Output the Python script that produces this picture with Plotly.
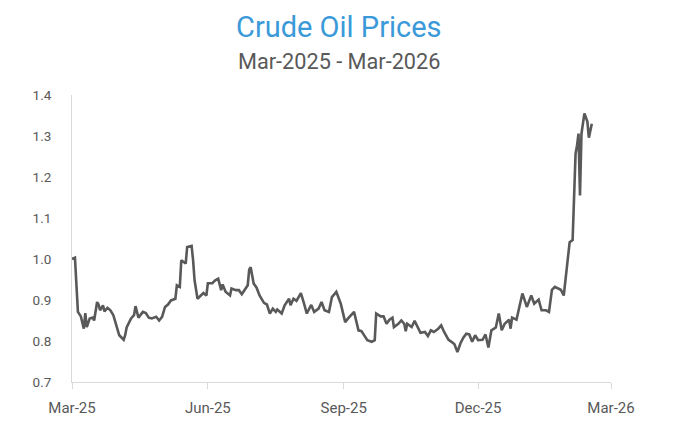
import plotly.graph_objects as go

dates = [
    "2025-03-01", "2025-03-03", "2025-03-05", "2025-03-07", "2025-03-09", "2025-03-10", "2025-03-11",
    "2025-03-13", "2025-03-15", "2025-03-16", "2025-03-18", "2025-03-19", "2025-03-20", "2025-03-22",
    "2025-03-23", "2025-03-25", "2025-03-27", "2025-03-29", "2025-04-01", "2025-04-02", "2025-04-05",
    "2025-04-06", "2025-04-07", "2025-04-10", "2025-04-12", "2025-04-13", "2025-04-15", "2025-04-18",
    "2025-04-20", "2025-04-22", "2025-04-24", "2025-04-27", "2025-04-29", "2025-05-01", "2025-05-03",
    "2025-05-05", "2025-05-07", "2025-05-10", "2025-05-11", "2025-05-13", "2025-05-14", "2025-05-17",
    "2025-05-18", "2025-05-21", "2025-05-22", "2025-05-23", "2025-05-25", "2025-05-27", "2025-05-29",
    "2025-05-31", "2025-06-01", "2025-06-04", "2025-06-06", "2025-06-08", "2025-06-10", "2025-06-11",
    "2025-06-13", "2025-06-16", "2025-06-17", "2025-06-20", "2025-06-22", "2025-06-24", "2025-06-26",
    "2025-06-28", "2025-06-29", "2025-06-30", "2025-07-02", "2025-07-04", "2025-07-06", "2025-07-09",
    "2025-07-11", "2025-07-13", "2025-07-15", "2025-07-17", "2025-07-18", "2025-07-21", "2025-07-23",
    "2025-07-26", "2025-07-27", "2025-07-29", "2025-07-31", "2025-08-03", "2025-08-05", "2025-08-07",
    "2025-08-10", "2025-08-12", "2025-08-15", "2025-08-17", "2025-08-19", "2025-08-22", "2025-08-24",
    "2025-08-27", "2025-08-30", "2025-09-02", "2025-09-04", "2025-09-08", "2025-09-11", "2025-09-13",
    "2025-09-17", "2025-09-20", "2025-09-22", "2025-09-23", "2025-09-26", "2025-09-28", "2025-09-30",
    "2025-10-02", "2025-10-04", "2025-10-05", "2025-10-08", "2025-10-10", "2025-10-12", "2025-10-13",
    "2025-10-14", "2025-10-17", "2025-10-19", "2025-10-22", "2025-10-23", "2025-10-26", "2025-10-28",
    "2025-10-30", "2025-11-01", "2025-11-04", "2025-11-06", "2025-11-08", "2025-11-11", "2025-11-13",
    "2025-11-15", "2025-11-17", "2025-11-19", "2025-11-21", "2025-11-23", "2025-11-25", "2025-11-27",
    "2025-11-29", "2025-12-01", "2025-12-04", "2025-12-06", "2025-12-08", "2025-12-10", "2025-12-13",
    "2025-12-15", "2025-12-17", "2025-12-19", "2025-12-22", "2025-12-23", "2025-12-24", "2025-12-27",
    "2025-12-31", "2026-01-03", "2026-01-06", "2026-01-08", "2026-01-11", "2026-01-13", "2026-01-16",
    "2026-01-18", "2026-01-20", "2026-01-22", "2026-01-26", "2026-01-28", "2026-01-30", "2026-02-01",
    "2026-02-03", "2026-02-04", "2026-02-05", "2026-02-06", "2026-02-07", "2026-02-08", "2026-02-09",
    "2026-02-11", "2026-02-13", "2026-02-14", "2026-02-16",
]

prices = [
    1.000, 1.003, 0.871, 0.860, 0.830, 0.868, 0.834,
    0.855, 0.857, 0.850, 0.895, 0.889, 0.875, 0.887,
    0.872, 0.881, 0.875, 0.863, 0.826, 0.814, 0.803,
    0.814, 0.833, 0.855, 0.863, 0.885, 0.857, 0.871,
    0.868, 0.857, 0.855, 0.859, 0.850, 0.859, 0.883,
    0.889, 0.899, 0.903, 0.936, 0.932, 0.997, 0.989,
    1.029, 1.032, 0.997, 0.948, 0.903, 0.911, 0.917,
    0.911, 0.941, 0.941, 0.948, 0.952, 0.924, 0.938,
    0.920, 0.911, 0.928, 0.924, 0.924, 0.914, 0.925,
    0.936, 0.974, 0.980, 0.940, 0.930, 0.911, 0.893,
    0.889, 0.867, 0.879, 0.871, 0.877, 0.867, 0.887,
    0.903, 0.887, 0.903, 0.898, 0.917, 0.893, 0.867,
    0.888, 0.871, 0.879, 0.895, 0.875, 0.871, 0.907,
    0.920, 0.891, 0.846, 0.855, 0.871, 0.826, 0.824,
    0.802, 0.798, 0.802, 0.867, 0.860, 0.860, 0.842,
    0.852, 0.857, 0.834, 0.842, 0.850, 0.842, 0.824,
    0.842, 0.834, 0.849, 0.826, 0.820, 0.822, 0.812,
    0.826, 0.822, 0.830, 0.838, 0.822, 0.803, 0.798,
    0.792, 0.773, 0.794, 0.808, 0.818, 0.816, 0.798,
    0.814, 0.802, 0.803, 0.816, 0.784, 0.826, 0.833,
    0.867, 0.826, 0.842, 0.852, 0.830, 0.857, 0.852,
    0.916, 0.883, 0.911, 0.891, 0.901, 0.875, 0.875,
    0.871, 0.925, 0.932, 0.925, 0.911, 0.976, 1.041,
    1.046, 1.140, 1.257, 1.277, 1.306, 1.155, 1.306,
    1.355, 1.335, 1.296, 1.330,
]

tick_dates = ["2025-03-01", "2025-06-01", "2025-09-01", "2025-12-01", "2026-03-01"]
tick_labels = ["Mar-25", "Jun-25", "Sep-25", "Dec-25", "Mar-26"]
y_ticks = [0.7, 0.8, 0.9, 1.0, 1.1, 1.2, 1.3, 1.4]

title_text = "Crude Oil Prices"
subtitle_text = "Mar-2025 - Mar-2026"

FONT = "Roboto"

fig = go.Figure()
fig.add_trace(go.Scatter(
    x=dates, y=prices, mode="lines",
    line=dict(color="#595959", width=2.6),
    hoverinfo="skip", showlegend=False,
))

fig.update_layout(
    width=670, height=427,
    margin=dict(l=64, r=67, t=87, b=53),
    paper_bgcolor="white", plot_bgcolor="white",
    font=dict(family=FONT, color="#595959"),
    showlegend=False,
    annotations=[
        dict(text=title_text, x=0.4954, y=1.237, xref="paper", yref="paper",
             xanchor="center", yanchor="middle", showarrow=False,
             font=dict(family=FONT, size=29, color="#3A9AD9")),
        dict(text=subtitle_text, x=0.4954, y=1.118, xref="paper", yref="paper",
             xanchor="center", yanchor="middle", showarrow=False,
             font=dict(family=FONT, size=21.7, color="#595959")),
    ],
)

fig.update_xaxes(
    type="date",
    range=["2025-03-01", "2026-03-01"],
    tickmode="array", tickvals=tick_dates, ticktext=tick_labels,
    showgrid=False, zeroline=False,
    showline=True, linecolor="#D9D9D9", linewidth=1,
    ticks="outside", ticklen=6, tickcolor="#D9D9D9", tickwidth=1,
    tickfont=dict(family=FONT, size=15, color="#595959"),
    ticklabelstandoff=6,
)
fig.update_yaxes(
    range=[0.7, 1.4],
    tickmode="array", tickvals=y_ticks, ticktext=[f"{v:.1f}" for v in y_ticks],
    showgrid=False, zeroline=False,
    showline=True, linecolor="#D9D9D9", linewidth=1,
    ticks="",
    tickfont=dict(family=FONT, size=13.5, color="#595959"),
    ticklabelstandoff=17,
)

fig.write_html("out.html")
